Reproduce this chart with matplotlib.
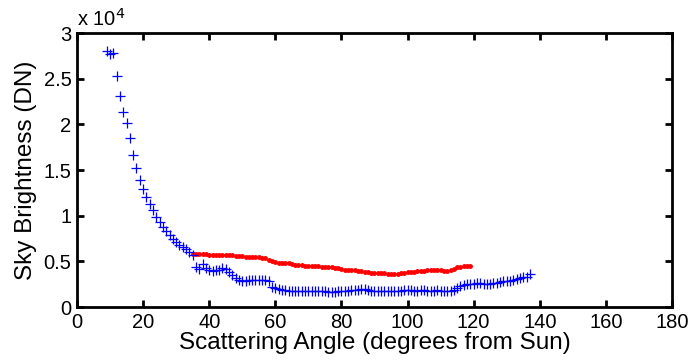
import numpy as np
import matplotlib
matplotlib.use('Agg')
import matplotlib.pyplot as plt
from matplotlib.ticker import FuncFormatter

# blue "+" series, one point per degree, values in units of 1e4 DN
blue_angle = np.arange(9, 138)
blue_val = [2.80, 2.77, 2.78, 2.53, 2.31, 2.14, 2.01, 1.85, 1.66, 1.52,
            1.39, 1.29, 1.20, 1.13, 1.06, 0.99, 0.93, 0.88, 0.83, 0.79,
            0.75, 0.71, 0.68, 0.66, 0.63, 0.60, 0.57,
            0.44, 0.42, 0.47, 0.43, 0.40, 0.39, 0.40, 0.41, 0.43, 0.42,
            0.38, 0.35, 0.32, 0.30, 0.28, 0.29, 0.30, 0.30, 0.30, 0.30,
            0.30, 0.30, 0.29,
            0.22, 0.21, 0.20, 0.19, 0.19, 0.18, 0.18, 0.17, 0.17, 0.17,
            0.17, 0.17, 0.18, 0.17, 0.17, 0.17, 0.17, 0.16, 0.16, 0.16,
            0.17, 0.18, 0.18, 0.18, 0.19, 0.19, 0.19, 0.20, 0.20, 0.19,
            0.18, 0.18, 0.17, 0.17, 0.18, 0.18, 0.18, 0.18, 0.18, 0.18,
            0.19, 0.19, 0.19, 0.18, 0.18, 0.19, 0.19, 0.18, 0.18, 0.18,
            0.19, 0.18, 0.18, 0.18, 0.18, 0.19,
            0.21, 0.23, 0.24, 0.25, 0.25, 0.25, 0.26, 0.26, 0.25, 0.25,
            0.25, 0.26, 0.26, 0.27, 0.28, 0.28, 0.29, 0.30, 0.31, 0.32,
            0.33, 0.33, 0.36]

# red "." series
red_angle = np.arange(35, 120)
red_val = [0.58, 0.575, 0.575, 0.575, 0.575, 0.57, 0.57, 0.57, 0.565, 0.57,
           0.57, 0.57, 0.565, 0.56, 0.56, 0.555, 0.55, 0.55, 0.545, 0.545,
           0.545, 0.54, 0.54, 0.52, 0.50, 0.49, 0.485, 0.485, 0.48, 0.48,
           0.47, 0.455, 0.455, 0.455, 0.45, 0.45, 0.45, 0.445, 0.445, 0.44,
           0.44, 0.44, 0.435, 0.43, 0.43, 0.42, 0.41, 0.405, 0.40, 0.40,
           0.395, 0.39, 0.385, 0.38, 0.375, 0.375, 0.375, 0.37, 0.37, 0.365,
           0.365, 0.36, 0.365, 0.37, 0.375, 0.38, 0.38, 0.385, 0.39, 0.39,
           0.395, 0.40, 0.40, 0.40, 0.40, 0.40, 0.395, 0.39, 0.40, 0.42,
           0.44, 0.44, 0.445, 0.445, 0.445]

plt.rcParams['font.family'] = ['Liberation Sans', 'DejaVu Sans']

fig = plt.figure(figsize=(6.91, 3.62), dpi=100)
ax = fig.add_axes([0.1114, 0.1519, 0.8611, 0.7569])

ax.plot(red_angle, red_val, '.', color='red', markersize=5)
ax.plot(blue_angle, blue_val, '+', color='blue', markersize=6.5, markeredgewidth=0.9)

ax.set_xlim(0, 180)
ax.set_ylim(0, 3)
ax.set_xticks(np.arange(0, 181, 20))
ax.set_yticks(np.arange(0, 3.01, 0.5))
ax.yaxis.set_major_formatter(FuncFormatter(lambda v, p: '%g' % v))
ax.tick_params(direction='in', length=5, width=2, top=True, right=True,
               labelsize=14.5, pad=4)
for s in ax.spines.values():
    s.set_linewidth(2)

ax.set_xlabel('Scattering Angle (degrees from Sun)', fontsize=17.5, labelpad=0)
ax.set_ylabel('Sky Brightness (DN)', fontsize=17.5, labelpad=5)
ax.text(0.0, 1.01, r'x 10$^{4}$', transform=ax.transAxes, fontsize=14.5,
        ha='left', va='bottom')

fig.savefig('out.png', dpi=100)
